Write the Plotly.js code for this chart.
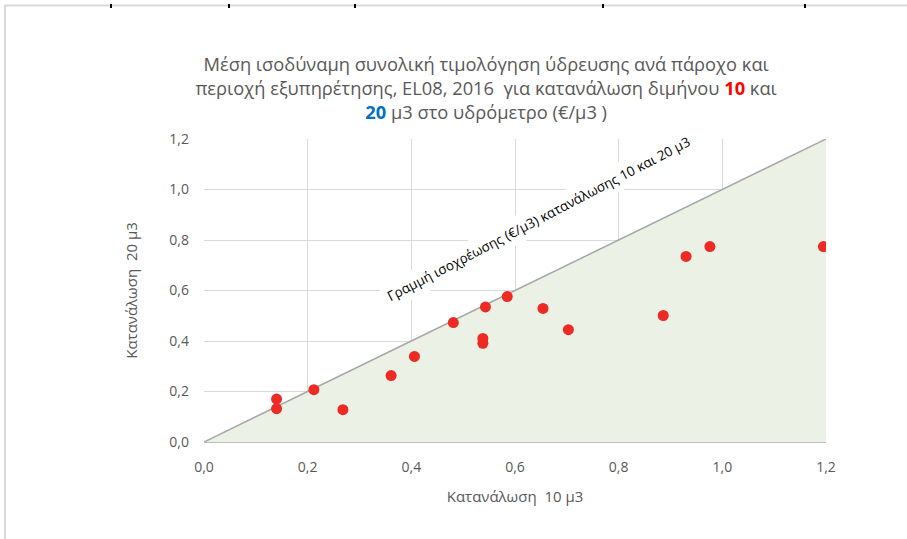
<!DOCTYPE html>
<html>
<head>
<meta charset="utf-8">
<script src="https://cdn.plot.ly/plotly-3.0.1.min.js"></script>
<style>html,body{margin:0;padding:0;background:#fff;}#chart{width:907px;height:539px;}</style>
</head>
<body>
<div id="chart"></div>
<script>
// Data
const consumption10 = [0.140, 0.140, 0.212, 0.268, 0.361, 0.406, 0.481, 0.538, 0.538, 0.543, 0.585, 0.654, 0.703, 0.886, 0.930, 0.976, 1.195];
const consumption20 = [0.170, 0.132, 0.207, 0.128, 0.263, 0.339, 0.473, 0.410, 0.391, 0.535, 0.576, 0.529, 0.445, 0.501, 0.735, 0.774, 0.774];
const equalityX = [0, 1.2];
const equalityY = [0, 1.2];
const tickValues = [0, 0.2, 0.4, 0.6, 0.8, 1.0, 1.2];
const titleText = 'Μέση ισοδύναμη συνολική τιμολόγηση ύδρευσης ανά πάροχο και<br>περιοχή εξυπηρέτησης, EL08, 2016  για κατανάλωση διμήνου <span style="color:#FF0000"><b>10</b></span> και<br><span style="color:#0070C0"><b>20</b></span> μ3 στο υδρόμετρο (€/μ3 )';
const lineLabel = 'Γραμμή ισοχρέωσης (€/μ3) κατανάλωσης 10 και 20 μ3';
const xTitle = 'Κατανάλωση  10 μ3';
const yTitle = 'Κατανάλωση  20 μ3';

const FONT = 'Open Sans, Noto Sans, sans-serif';
const GREY = '#595959';

const traces = [
  {
    x: equalityX, y: equalityY, type: 'scatter', mode: 'lines',
    fill: 'tozeroy', fillcolor: 'rgba(235,242,229,1)',
    line: {color: '#A6A6A6', width: 1.5},
    hoverinfo: 'skip', showlegend: false
  },
  {
    x: consumption10, y: consumption20, type: 'scatter', mode: 'markers',
    marker: {color: '#EE2A24', size: 11},
    showlegend: false
  }
];

// frame and small marks (pixel -> paper conversion)
const L = 204, R = 826, T = 139, B = 442;
const px = v => (v - L) / (R - L);
const py = v => (B - v) / (B - T);
const shapes = [
  {type: 'line', xref: 'paper', yref: 'paper', x0: px(4), x1: px(907), y0: py(5.5), y1: py(5.5), line: {color: '#D9D9D9', width: 2}},
  {type: 'line', xref: 'paper', yref: 'paper', x0: px(5), x1: px(5), y0: py(5), y1: py(539), line: {color: '#D9D9D9', width: 2}}
];
[111, 229, 355, 603, 805].forEach(t => shapes.push({type: 'line', xref: 'paper', yref: 'paper', x0: px(t), x1: px(t), y0: py(4), y1: py(8), line: {color: '#000', width: 2}}));

const layout = {
  width: 907, height: 539,
  margin: {l: L, r: 907 - R, t: T, b: 539 - B},
  paper_bgcolor: '#fff', plot_bgcolor: '#fff',
  separators: ',.',
  font: {family: FONT, color: GREY, size: 13},
  title: {
    text: titleText, x: 0.536, xref: 'container', xanchor: 'center',
    y: 0.868, yref: 'container', yanchor: 'middle',
    font: {family: FONT, size: 18.3, color: GREY}
  },
  xaxis: {
    range: [0, 1.2], tickvals: tickValues, tickformat: '.1f',
    showgrid: true, gridcolor: '#D9D9D9', gridwidth: 1,
    zeroline: false, showline: true, linecolor: '#BFBFBF', linewidth: 1,
    ticks: '', ticklabelstandoff: 12, tickfont: {size: 14, color: GREY},
    title: {text: xTitle, font: {size: 15, color: GREY}, standoff: 16}
  },
  yaxis: {
    range: [0, 1.2], tickvals: tickValues, tickformat: '.1f',
    showgrid: true, gridcolor: '#D9D9D9', gridwidth: 1,
    zeroline: false, showline: false,
    ticks: '', ticklabelstandoff: 14, tickfont: {size: 14, color: GREY},
    title: {text: yTitle, font: {size: 15, color: GREY}, standoff: 28}
  },
  annotations: [{
    x: 0.645, y: 0.884, xref: 'x', yref: 'y', text: lineLabel,
    showarrow: false, textangle: -27.5, bgcolor: '#fff',
    font: {family: FONT, size: 13.5, color: '#000'}, borderpad: 4
  }],
  shapes: shapes
};

Plotly.newPlot('chart', traces, layout, {displayModeBar: false, staticPlot: true});
</script>
</body>
</html>
